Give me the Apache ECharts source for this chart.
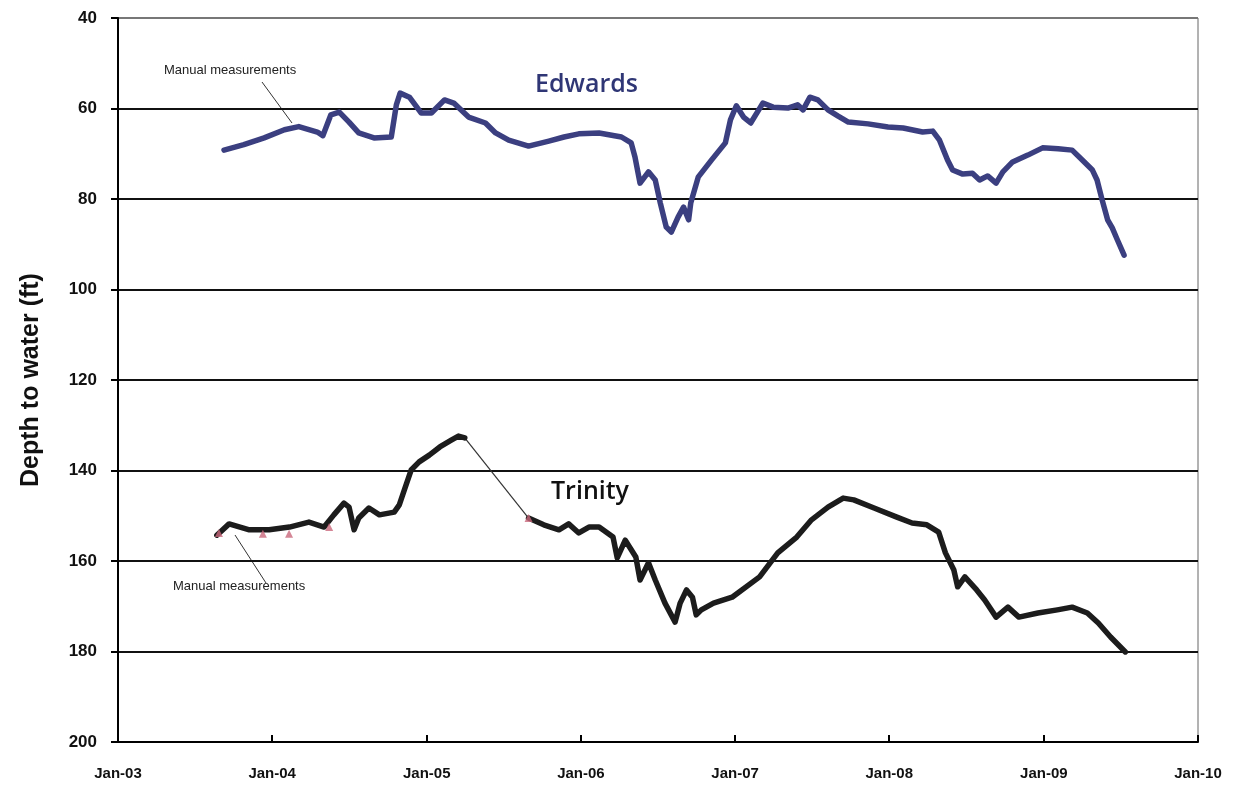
<!DOCTYPE html>
<html>
<head>
<meta charset="utf-8">
<script src="https://cdn.jsdelivr.net/npm/echarts@6/dist/echarts.min.js"></script>
<style>
html,body{margin:0;padding:0;background:#fff;}
#chart{width:1243px;height:786px;}
</style>
</head>
<body>
<div id="chart"></div>
<script>
// ---- data ----
const edwardsDates = ['2003-09-09','2003-10-26','2003-12-13','2004-01-30','2004-03-04','2004-04-17','2004-04-30','2004-05-19','2004-06-08','2004-07-01','2004-07-24','2004-08-29','2004-10-09','2004-10-21','2004-10-30','2004-11-21','2004-12-19','2005-01-12','2005-02-12','2005-03-06','2005-04-10','2005-05-20','2005-06-13','2005-07-14','2005-08-30','2005-10-17','2005-11-22','2005-12-27','2006-02-13','2006-04-07','2006-04-30','2006-05-09','2006-05-21','2006-06-10','2006-06-26','2006-07-08','2006-07-22','2006-08-03','2006-08-19','2006-09-01','2006-09-13','2006-09-18','2006-10-06','2006-11-06','2006-12-09','2006-12-21','2007-01-04','2007-01-21','2007-02-07','2007-02-26','2007-03-08','2007-04-01','2007-05-06','2007-05-29','2007-06-11','2007-06-27','2007-07-16','2007-08-09','2007-09-02','2007-09-26','2007-11-12','2007-12-29','2008-02-03','2008-03-20','2008-04-13','2008-04-29','2008-05-18','2008-05-30','2008-06-23','2008-07-16','2008-08-02','2008-08-21','2008-09-10','2008-09-26','2008-10-19','2008-11-24','2008-12-29','2009-02-04','2009-03-09','2009-04-02','2009-04-26','2009-05-07','2009-05-19','2009-06-01','2009-06-12','2009-06-24','2009-07-10'];
const edwardsDepth = [69.2,68.0,66.5,64.7,64.0,65.2,66.0,61.4,60.8,63.0,65.4,66.5,66.3,59.2,56.6,57.5,61.0,61.0,58.1,58.8,61.9,63.2,65.4,67.0,68.3,67.2,66.3,65.6,65.4,66.3,67.6,70.7,76.5,74.0,75.8,80.9,86.2,87.3,84.0,81.8,84.6,80.9,75.1,71.4,67.6,62.5,59.4,61.9,63.2,60.3,58.8,59.7,59.9,59.2,60.3,57.5,58.1,60.3,61.7,63.0,63.4,64.1,64.3,65.2,65.0,67.0,71.4,73.6,74.5,74.3,75.8,74.9,76.5,74.0,71.8,70.3,68.7,68.9,69.2,71.4,73.6,75.8,80.2,84.6,86.4,89.0,92.4];

const trinityDates = ['2003-08-23','2003-09-21','2003-11-08','2003-12-25','2004-02-11','2004-03-28','2004-05-03','2004-05-26','2004-06-19','2004-07-01','2004-07-13','2004-07-24','2004-08-17','2004-09-11','2004-10-16','2004-10-28','2004-11-09','2004-11-25','2004-12-14','2005-01-07','2005-02-01','2005-02-28','2005-03-17','2005-04-01','2005-06-15','2005-08-30','2005-10-05','2005-11-10','2005-12-03','2005-12-27','2006-01-20','2006-02-13','2006-03-18','2006-03-28','2006-04-16','2006-05-11','2006-05-21','2006-06-10','2006-06-26','2006-07-19','2006-08-12','2006-08-24','2006-09-08','2006-09-22','2006-10-01','2006-10-13','2006-11-11','2006-12-25','2007-02-28','2007-04-12','2007-05-27','2007-07-01','2007-08-09','2007-09-14','2007-10-09','2007-11-26','2008-01-19','2008-02-24','2008-03-30','2008-04-27','2008-05-13','2008-06-02','2008-06-11','2008-06-28','2008-07-26','2008-08-14','2008-09-10','2008-10-08','2008-11-03','2008-12-18','2009-02-02','2009-03-09','2009-04-14','2009-05-10','2009-06-08','2009-07-13'];
const trinityDepth = [154.3,151.8,153.1,153.1,152.5,151.4,152.5,149.8,147.2,148.1,153.1,150.5,148.3,149.8,149.2,147.6,144.3,139.9,138.1,136.6,134.8,133.3,132.4,132.8,null,150.5,152.0,153.1,151.8,153.8,152.5,152.5,154.7,159.3,155.4,159.1,164.2,160.4,164.2,169.3,173.5,169.3,166.4,168.0,171.9,170.8,169.3,168.0,163.5,158.2,154.7,150.9,148.1,146.1,146.5,148.3,150.3,151.6,152.0,153.6,158.2,162.0,165.7,163.5,166.4,168.6,172.4,170.2,172.4,171.5,170.8,170.2,171.5,173.7,176.8,180.1];

const manualDates = ['2003-08-28','2003-12-10','2004-02-10','2004-05-15','2005-08-30'];
const manualDepth = [153.8,154.0,154.0,152.5,150.5];

const yTicks = [40,60,80,100,120,140,160,180,200];

// ---- chart ----
const pair = (d, v) => d.map((x, i) => [x, v[i]]);
const gap = trinityDepth.indexOf(null);
const connector = [[trinityDates[gap-1], trinityDepth[gap-1]], [trinityDates[gap+1], trinityDepth[gap+1]]];
const MONTHS = ['Jan','Feb','Mar','Apr','May','Jun','Jul','Aug','Sep','Oct','Nov','Dec'];
const YEAR = 365.25*24*3600*1000;

const chart = echarts.init(document.getElementById('chart'), null, {renderer:'canvas'});
chart.setOption({
  backgroundColor:'#ffffff',
  animation:false,
  grid:{left:118, right:45, top:18, bottom:44, show:true, borderColor:'#666', borderWidth:1, containLabel:false},
  xAxis:{
    type:'time', min:'2003-01-01', max:'2010-01-01',
    minInterval: YEAR*0.99, maxInterval: YEAR*1.01,
    axisLine:{show:true, lineStyle:{color:'#000', width:2}},
    axisTick:{show:true, inside:true, length:7, lineStyle:{color:'#000', width:2}},
    splitLine:{show:false},
    axisLabel:{
      margin:24, color:'#111', fontFamily:'Liberation Sans, Arial, sans-serif', fontWeight:'bold', fontSize:15,
      showMinLabel:true, showMaxLabel:true,
      formatter:function(v){const d=new Date(v);return MONTHS[d.getMonth()]+'-'+String(d.getFullYear()).slice(2);}
    }
  },
  yAxis:{
    type:'value', inverse:true, min:yTicks[0], max:yTicks[yTicks.length-1], interval:yTicks[1]-yTicks[0],
    name:'Depth to water (ft)', nameLocation:'middle', nameGap:74,
    nameTextStyle:{fontFamily:'Liberation Sans, Arial, sans-serif', fontWeight:'bold', fontSize:25, color:'#111'},
    axisLine:{show:true, lineStyle:{color:'#000', width:2}},
    axisTick:{show:true, inside:false, length:7, lineStyle:{color:'#000', width:2}},
    axisLabel:{margin:21, color:'#111', fontFamily:'Liberation Sans, Arial, sans-serif', fontWeight:'bold', fontSize:17},
    splitLine:{show:true, lineStyle:{color:['#777','#111','#111','#111','#111','#111','#111','#111','#111'], width:2}}
  },
  series:[
    {name:'Edwards', type:'line', data:pair(edwardsDates, edwardsDepth), showSymbol:false, symbol:'none',
     lineStyle:{color:'#3b3f80', width:5.5, join:'round', cap:'round'}, z:3},
    {name:'Trinity', type:'line', data:pair(trinityDates, trinityDepth), showSymbol:false, symbol:'none', connectNulls:false,
     lineStyle:{color:'#1c1c1c', width:5.5, join:'round', cap:'round'}, z:3},
    {name:'Trinity gap', type:'line', data:connector, showSymbol:false, symbol:'none',
     lineStyle:{color:'#333', width:1.2}, z:2},
    {name:'Manual measurements', type:'scatter', data:pair(manualDates, manualDepth), symbol:'triangle', symbolSize:8,
     itemStyle:{color:'#c9687c'}, z:4}
  ],
  graphic:[
    {type:'text', left:535, top:72, style:{text:'Edwards', fill:'#2f3675', font:'600 25px "Open Sans", "Noto Sans", sans-serif'}},
    {type:'text', left:551, top:479, style:{text:'Trinity', fill:'#111', font:'600 25px "Open Sans", "Noto Sans", sans-serif'}},
    {type:'text', left:164, top:64, style:{text:'Manual measurements', fill:'#222', font:'13px "Liberation Sans Narrow", "Liberation Sans", Arial, sans-serif'}},
    {type:'line', shape:{x1:262, y1:82, x2:292, y2:123}, style:{stroke:'#333', lineWidth:1}},
    {type:'text', left:173, top:580, style:{text:'Manual measurements', fill:'#222', font:'13px "Liberation Sans Narrow", "Liberation Sans", Arial, sans-serif'}},
    {type:'line', shape:{x1:235, y1:535, x2:266, y2:583}, style:{stroke:'#333', lineWidth:1}}
  ]
});
</script>
</body>
</html>
